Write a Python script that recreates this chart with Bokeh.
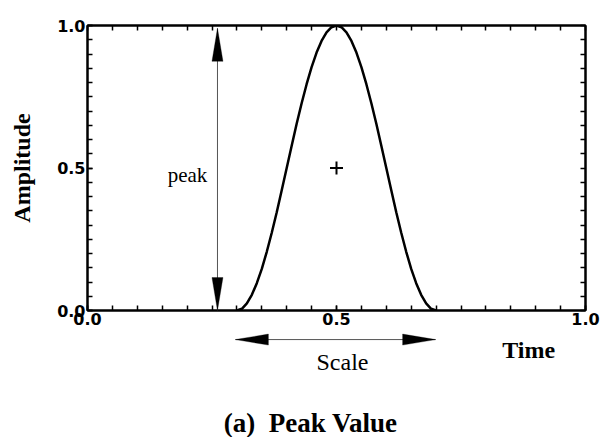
from bokeh.plotting import figure
from bokeh.layouts import column
from bokeh.models import Range1d, LinearAxis, FixedTicker, Label, Arrow, PolyAnnotation
from bokeh.embed import file_html
from bokeh.resources import INLINE

# ---- data ----
time_vals = [0.30, 0.31, 0.32, 0.33, 0.34, 0.35, 0.36, 0.37, 0.38, 0.39, 0.40,
             0.41, 0.42, 0.43, 0.44, 0.45, 0.46, 0.47, 0.48, 0.49, 0.50,
             0.51, 0.52, 0.53, 0.54, 0.55, 0.56, 0.57, 0.58, 0.59, 0.60,
             0.61, 0.62, 0.63, 0.64, 0.65, 0.66, 0.67, 0.68, 0.69, 0.70]
amplitude = [0.0, 0.006, 0.025, 0.055, 0.096, 0.146, 0.206, 0.273, 0.345, 0.422, 0.5,
             0.578, 0.655, 0.727, 0.794, 0.854, 0.905, 0.946, 0.976, 0.994, 1.0,
             0.994, 0.976, 0.946, 0.905, 0.854, 0.794, 0.727, 0.655, 0.578, 0.5,
             0.422, 0.345, 0.273, 0.206, 0.146, 0.096, 0.055, 0.025, 0.006, 0.0]

major_ticks = [0.0, 0.5, 1.0]
tick_labels = ["0.0", "0.5", "1.0"]
minor_ticks = [0.0, 0.05, 0.1, 0.15, 0.2, 0.25, 0.3, 0.35, 0.4, 0.45, 0.5,
               0.55, 0.6, 0.65, 0.7, 0.75, 0.8, 0.85, 0.9, 0.95, 1.0]

centroid_x = [0.5]
centroid_y = [0.5]

peak_arrow_x = 0.261
peak_arrow_y = [0.0, 0.99]
scale_arrow_x = [0.297, 0.699]
scale_arrow_y = -0.102

FW, FH = 498, 285
SERIF = "Liberation Serif"

xr = Range1d(0, 1)

# ---------------- main plot ----------------
p = figure(frame_width=FW, frame_height=FH,
           x_range=xr, y_range=Range1d(0, 1),
           output_backend="svg", toolbar_location=None,
           min_border_left=87, min_border_right=18,
           min_border_top=25, min_border_bottom=20)
p.grid.visible = False
p.outline_line_color = "black"
p.outline_line_width = 2
p.background_fill_color = "white"
p.border_fill_color = "white"

overrides = {t: l for t, l in zip(major_ticks, tick_labels)}


def style_axis(ax, labels=True):
    ax.axis_line_color = "black"
    ax.axis_line_width = 2
    ax.major_tick_in = 5
    ax.major_tick_out = 0
    ax.minor_tick_in = 5
    ax.minor_tick_out = 0
    ax.major_tick_line_width = 1.5
    ax.minor_tick_line_width = 1.5
    ax.major_tick_line_color = "black"
    ax.minor_tick_line_color = "black"
    ax.major_label_standoff = 2
    if labels:
        ax.ticker = FixedTicker(ticks=major_ticks, minor_ticks=minor_ticks)
        ax.major_label_overrides = overrides
        ax.major_label_text_font = "DejaVu Sans"
        ax.major_label_text_font_style = "bold"
        ax.major_label_text_font_size = "16px"
        ax.major_label_text_color = "black"
    else:
        ax.ticker = FixedTicker(ticks=[], minor_ticks=minor_ticks)
        ax.major_label_standoff = 0


for ax in p.xaxis:
    style_axis(ax)
for ax in p.yaxis:
    style_axis(ax)
    ax.axis_label = "Amplitude"
    ax.axis_label_text_font = SERIF
    ax.axis_label_text_font_style = "bold"
    ax.axis_label_text_font_size = "24px"
    ax.axis_label_text_color = "black"
    ax.axis_label_standoff = 19

top_ax = LinearAxis()
style_axis(top_ax, labels=False)
p.add_layout(top_ax, "above")
right_ax = LinearAxis()
style_axis(right_ax, labels=False)
p.add_layout(right_ax, "right")

# pulse curve
p.line(time_vals, amplitude, line_width=2.5, line_color="black")
# centroid marker
p.scatter(centroid_x, centroid_y, marker="cross", size=13, line_width=2, line_color="black")

HL, HW = 33.0, 11.0


def head(fig, xt, yt, ux, uy):
    dx = 1.0 / FW
    dy = 1.0 / FH
    bx = xt - ux * HL * dx
    by = yt - uy * HL * dy
    px, py = -uy, ux
    xs = [xt, bx + px * HW / 2 * dx, bx - px * HW / 2 * dx]
    ys = [yt, by + py * HW / 2 * dy, by - py * HW / 2 * dy]
    fig.add_layout(PolyAnnotation(xs=xs, ys=ys, fill_color="black", fill_alpha=1,
                                  line_color="black", line_width=1))


p.add_layout(Arrow(start=None, end=None, x_start=peak_arrow_x, y_start=peak_arrow_y[0],
                   x_end=peak_arrow_x, y_end=peak_arrow_y[1], line_width=1, line_color="#555555"))
head(p, peak_arrow_x, peak_arrow_y[1], 0, 1)
head(p, peak_arrow_x, peak_arrow_y[0], 0, -1)

p.add_layout(Label(x=0.2008, y=0.474, text="peak", text_font=SERIF, text_font_size="21px",
                   text_align="center", text_baseline="middle", text_color="black"))

# ---------------- lower strip (same x scale) ----------------
LOWER_H = 107
y_top = -(330 - 310) / FH
y_bot = y_top - LOWER_H / FH
q = figure(frame_width=FW, frame_height=LOWER_H,
           x_range=xr, y_range=Range1d(y_bot, y_top),
           output_backend="svg", toolbar_location=None,
           x_axis_location=None, y_axis_location=None,
           min_border_left=87, min_border_right=18,
           min_border_top=0, min_border_bottom=0)
q.grid.visible = False
q.outline_line_color = None
q.background_fill_color = "white"
q.border_fill_color = "white"

q.add_layout(Arrow(start=None, end=None, x_start=scale_arrow_x[0], y_start=scale_arrow_y,
                   x_end=scale_arrow_x[1], y_end=scale_arrow_y, line_width=1, line_color="#555555"))
head(q, scale_arrow_x[0], scale_arrow_y, -1, 0)
head(q, scale_arrow_x[1], scale_arrow_y, 1, 0)

q.add_layout(Label(x=0.512, y=-0.182, text="Scale", text_font=SERIF, text_font_size="24px",
                   text_align="center", text_baseline="middle", text_color="black"))
q.add_layout(Label(x=0.886, y=-0.140, text="Time", text_font=SERIF, text_font_size="24px",
                   text_font_style="bold", text_align="center", text_baseline="middle",
                   text_color="black"))
q.add_layout(Label(x=0.448, y=-0.393, text="(a)\u00a0\u00a0Peak Value", text_font=SERIF,
                   text_font_size="27px", text_font_style="bold", text_align="center",
                   text_baseline="middle", text_color="black"))

layout = column(p, q, spacing=0)
open("out.html", "w").write(file_html(layout, INLINE))
